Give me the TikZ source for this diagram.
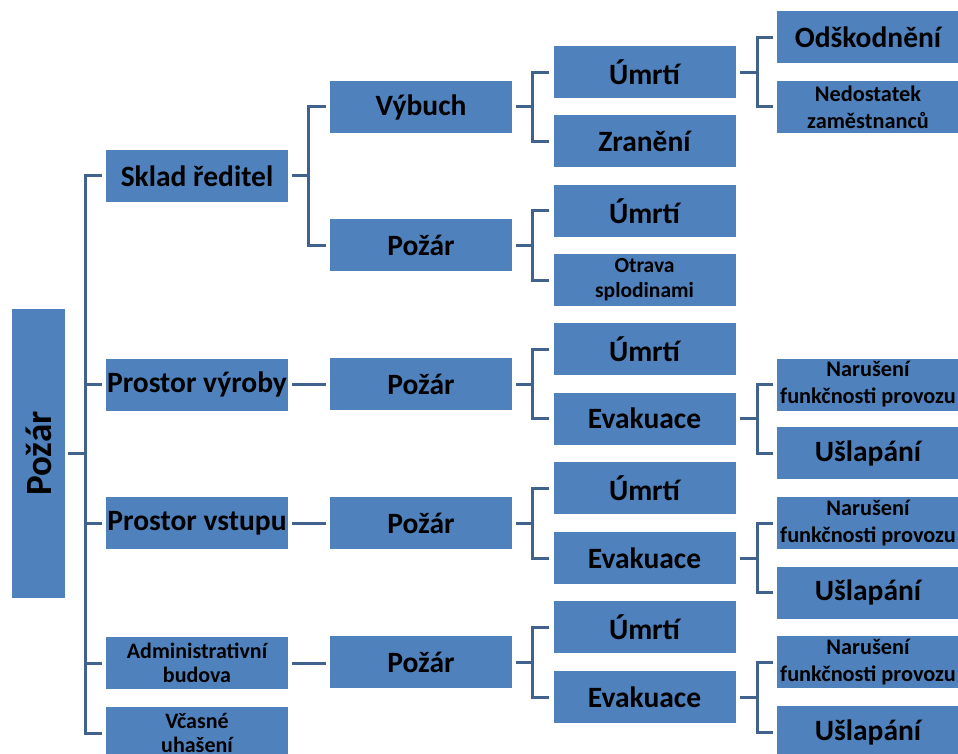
\documentclass[tikz,border=0pt]{standalone}
\usepackage{fontspec}
\setmainfont{Carlito}
\definecolor{boxblue}{RGB}{79,129,189}
\definecolor{linecol}{RGB}{65,98,140}
\begin{document}
\begin{tikzpicture}[x=1pt,y=-1pt,
  box/.style={fill=boxblue, draw=none, minimum width=182pt, minimum height=52pt,
    inner sep=0pt, align=center, text=black,
    font=\bfseries\fontsize{29.5}{31}\selectfont},
  smalltxt/.style={font=\bfseries\fontsize{22.3}{27}\selectfont},
  tinytxt/.style={font=\bfseries\fontsize{21.5}{25}\selectfont},
  conn/.style={draw=linecol, line width=3pt, line join=miter}]
\useasboundingbox (0,0) rectangle (958,754);
\clip (0,0) rectangle (958,754);

% root
\node[box, minimum width=53pt, minimum height=289pt,
  font=\bfseries\fontsize{37}{38}\selectfont] (root) at (38.5,453.5) {\rotatebox{90}{Požár}};

% level 1
\node[box] (sklad) at (197,176) {Sklad ředitel};
\node[box] (vyroba) at (197,384.5) {Prostor výroby};
\node[box] (vstup) at (197,523) {Prostor vstupu};
\node[box, smalltxt, font=\bfseries\fontsize{22}{24.5}\selectfont] (admin) at (197,663) {Administrativní\\budova};
\node[box, smalltxt, font=\bfseries\fontsize{22}{24.5}\selectfont] (vcasne) at (197,733) {Včasné\\uhašení};

% level 2
\node[box] (vybuch) at (421,107) {Výbuch};
\node[box] (pozA) at (421,245) {Požár};
\node[box] (pozB) at (421,384) {Požár};
\node[box] (pozC) at (421,523) {Požár};
\node[box] (pozD) at (421,662) {Požár};

% level 3
\node[box] (umA) at (644.5,72.5) {Úmrtí};
\node[box] (zran) at (644.5,141.5) {Zranění};
\node[box] (umB) at (644.5,211) {Úmrtí};
\node[box, tinytxt] (otrava) at (644.5,280) {Otrava\\splodinami};
\node[box] (umC) at (644.5,349) {Úmrtí};
\node[box] (evC) at (644.5,418.5) {Evakuace};
\node[box] (umD) at (644.5,488) {Úmrtí};
\node[box] (evD) at (644.5,558) {Evakuace};
\node[box] (umE) at (644.5,627) {Úmrtí};
\node[box] (evE) at (644.5,697) {Evakuace};

% level 4
\node[box] (odsk) at (868,37.5) {Odškodnění};
\node[box, smalltxt] (nedost) at (868,107) {Nedostatek\\zaměstnanců};
\node[box, smalltxt] (narC) at (868,384.5) {Narušení\\funkčnosti provozu};
\node[box] (uslC) at (868,453) {Ušlapání};
\node[box, smalltxt] (narD) at (868,523) {Narušení\\funkčnosti provozu};
\node[box] (uslD) at (868,592.5) {Ušlapání};
\node[box, smalltxt] (narE) at (868,662) {Narušení\\funkčnosti provozu};
\node[box] (uslE) at (868,732) {Ušlapání};

% bus columns
\coordinate (b0) at (85,0);
\coordinate (b1) at (308,0);
\coordinate (b2) at (532,0);
\coordinate (b3) at (757,0);

% root -> level 1
\draw[conn] ([xshift=3pt]root.east) -- (root.east -| b0);
\draw[conn] ([xshift=-4pt]sklad.west) -- (sklad.west -| b0) -- (vcasne.west -| b0) -- ([xshift=-4pt]vcasne.west);
\foreach \c in {vyroba,vstup,admin}
  \draw[conn] (\c.west -| b0) -- ([xshift=-4pt]\c.west);

% level 1 -> level 2
\draw[conn] ([xshift=4pt]sklad.east) -- (sklad.east -| b1);
\draw[conn] ([xshift=-4pt]vybuch.west) -- (vybuch.west -| b1) -- (pozA.west -| b1) -- ([xshift=-4pt]pozA.west);
\draw[conn] ([xshift=4pt]vyroba.east) -- ([xshift=-4pt]vyroba.east -| pozB.west);
\draw[conn] ([xshift=4pt]vstup.east) -- ([xshift=-4pt]vstup.east -| pozC.west);
\draw[conn] ([xshift=4pt]admin.east) -- ([xshift=-4pt]admin.east -| pozD.west);

% level 2 -> level 3
\foreach \p/\a/\b in {vybuch/umA/zran, pozA/umB/otrava, pozB/umC/evC, pozC/umD/evD, pozD/umE/evE}{
  \draw[conn] ([xshift=4pt]\p.east) -- (\p.east -| b2);
  \draw[conn] ([xshift=-4pt]\a.west) -- (\a.west -| b2) -- (\b.west -| b2) -- ([xshift=-4pt]\b.west);
}

% level 3 -> level 4
\foreach \p/\a/\b in {umA/odsk/nedost, evC/narC/uslC, evD/narD/uslD, evE/narE/uslE}{
  \draw[conn] ([xshift=4pt]\p.east) -- (\p.east -| b3);
  \draw[conn] ([xshift=-4pt]\a.west) -- (\a.west -| b3) -- (\b.west -| b3) -- ([xshift=-4pt]\b.west);
}
\end{tikzpicture}
\end{document}
